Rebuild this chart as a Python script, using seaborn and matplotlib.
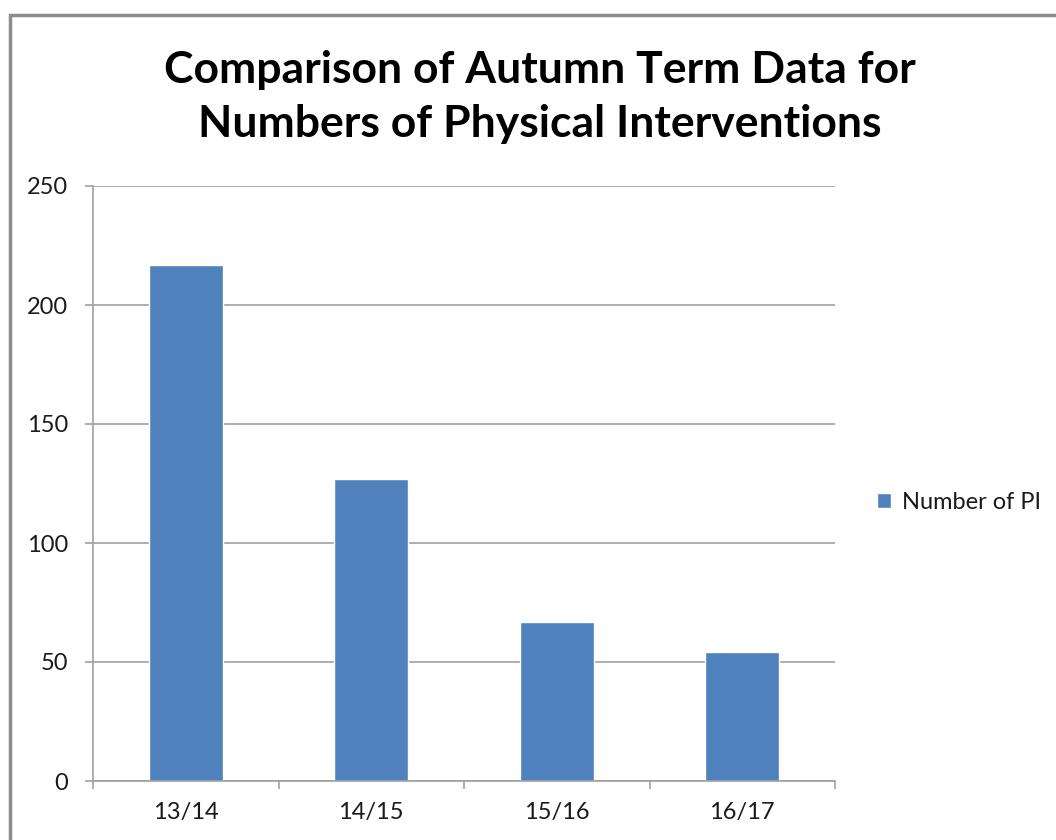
import matplotlib
matplotlib.use("Agg")
import matplotlib.pyplot as plt
import seaborn as sns
import pandas as pd
import numpy as np
from matplotlib.patches import Rectangle

categories = ["13/14", "14/15", "15/16", "16/17"]
values = [217, 127, 67, 54]
series_name = "Number of PI"
title = "Comparison of Autumn Term Data for\nNumbers of Physical Interventions"
yticks = [0, 50, 100, 150, 200, 250]

sns.set_theme(style="white")
plt.rcParams['font.family'] = ['Lato', 'DejaVu Sans']

df = pd.DataFrame({"Season": categories, "Count": values, "Series": series_name})

fig = plt.figure(figsize=(10.56, 8.4), dpi=100)
ax = fig.add_axes([93/1056, 1-781/840, (835-93)/1056, (781-186)/840])

bar_color = "#4F81BD"
sns.barplot(data=df, x="Season", y="Count", hue="Series", palette=[bar_color],
            width=0.4, ax=ax, saturation=1, legend=True)

ax.set_xlim(-0.5, 3.5)
ax.set_ylim(0, 250)
ax.set_yticks(yticks)
ax.set_yticklabels([str(v) for v in yticks], fontsize=17, color="#1a1a1a")
ax.set_xticks(range(len(categories)))
ax.set_xticklabels(categories, fontsize=17, color="#1a1a1a")
ax.set_xticks(np.arange(-0.5, len(categories)), minor=True)
ax.tick_params(axis="x", which="major", length=0, pad=15)
ax.tick_params(axis="x", which="minor", length=6, width=1.2, color="#A0A0A0", direction="out", bottom=True)
ax.tick_params(axis="y", which="major", length=6, width=1.2, color="#A0A0A0", direction="out", left=True, pad=12)
ax.set_xlabel("")
ax.set_ylabel("")
ax.yaxis.grid(True, color="#A0A0A0", linewidth=1.2)
ax.set_axisbelow(True)
for side in ["top", "right"]:
    ax.spines[side].set_visible(False)
for side in ["left", "bottom"]:
    ax.spines[side].set_color("#A0A0A0")
    ax.spines[side].set_linewidth(1.2)

leg = ax.legend(loc="center left", bbox_to_anchor=(1.057, 0.468), frameon=False,
                borderaxespad=0, borderpad=0,
                fontsize=17, handlelength=0.6, handleheight=0.6, handletextpad=0.45)
for t in leg.get_texts():
    t.set_color("#1a1a1a")

fig.text(540/1056, 1-97/840, title, ha="center", va="center", fontsize=32,
         fontweight="bold", linespacing=1.42, color="black")

fig.patches.append(Rectangle((10/1056, -0.1), 1.2, 1 - 15/840 + 0.1, transform=fig.transFigure,
                             fill=False, edgecolor="#8C8C8C", linewidth=2.5, figure=fig))

fig.savefig("out.png", dpi=100)
